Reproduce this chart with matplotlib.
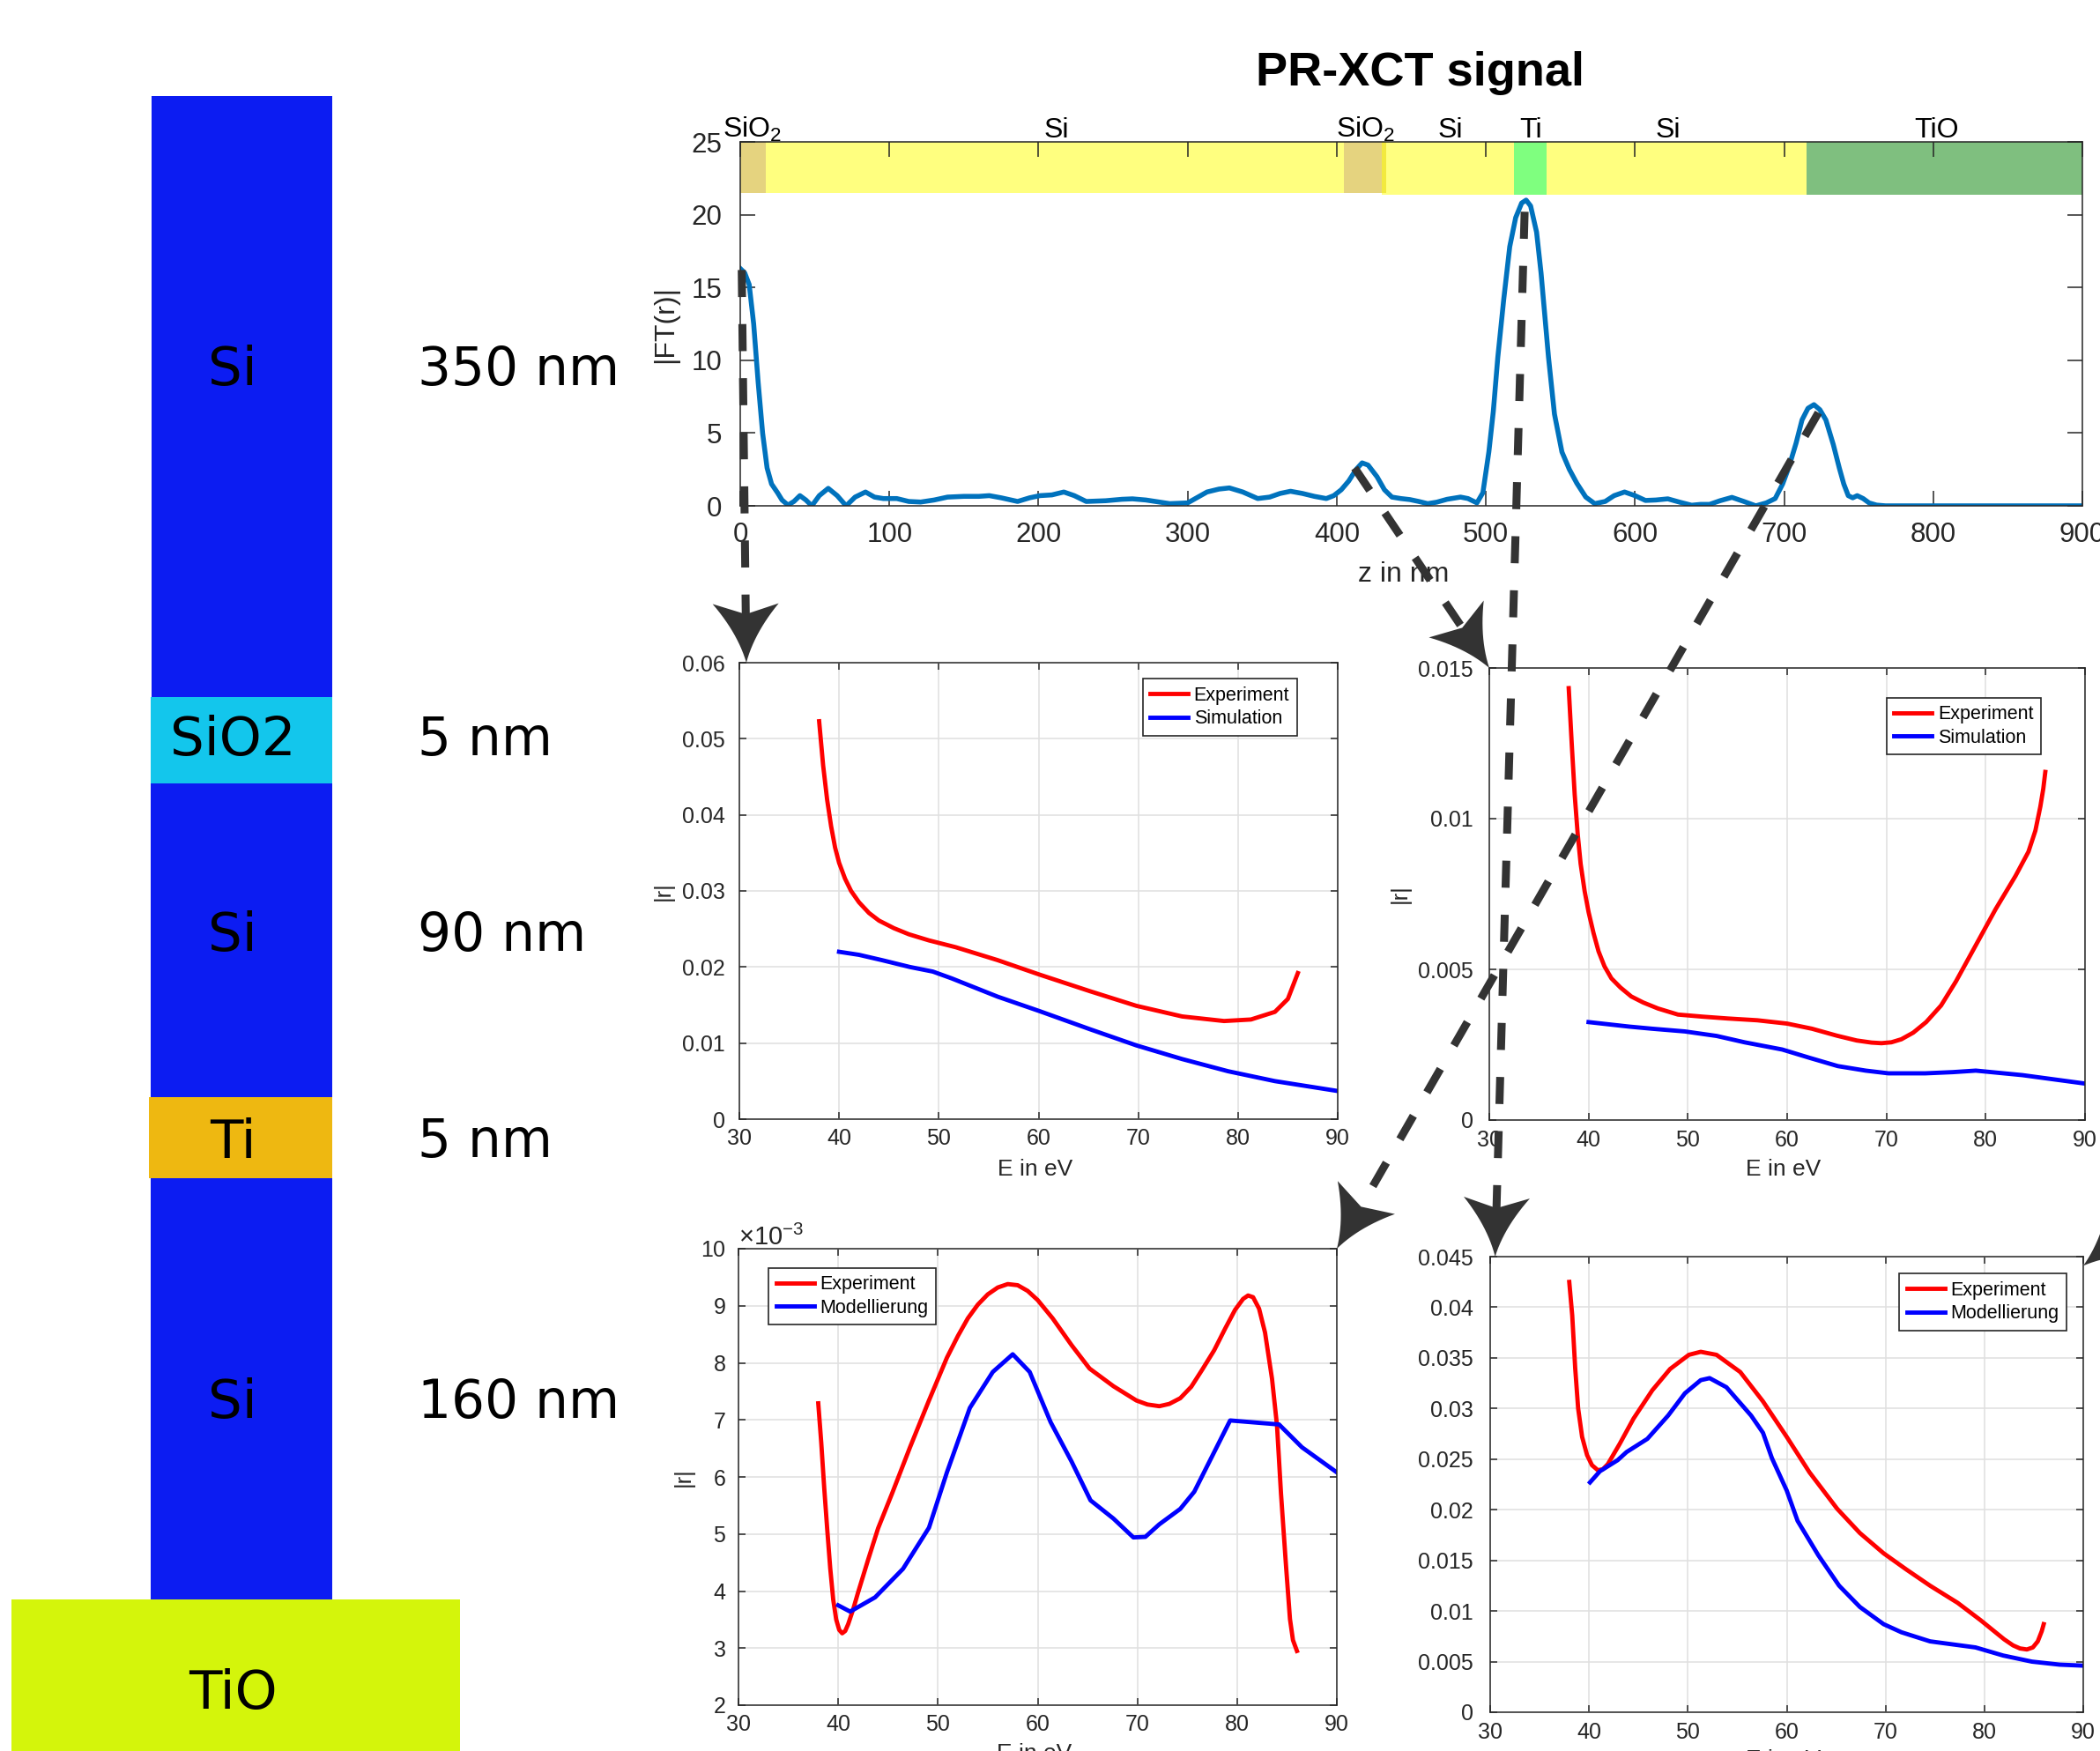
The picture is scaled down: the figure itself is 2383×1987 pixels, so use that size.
import numpy as np
import matplotlib
matplotlib.use("Agg")
import matplotlib.pyplot as plt
from matplotlib.patches import Rectangle, Polygon
from matplotlib.lines import Line2D
from matplotlib.ticker import FuncFormatter, ScalarFormatter
from matplotlib.transforms import IdentityTransform

plt.rcParams["font.family"] = ["Liberation Sans", "DejaVu Sans"]
plt.rcParams["mathtext.fontset"] = "custom"
plt.rcParams["mathtext.rm"] = "Liberation Sans"
plt.rcParams["mathtext.it"] = "Liberation Sans:italic"

W, H = 2383, 1987

# ---------------- data ----------------
# layer stack (left)
layer_names = ["Si", "SiO2", "Si", "Ti", "Si", "TiO"]
layer_thick = ["350 nm", "5 nm", "90 nm", "5 nm", "160 nm", ""]
layer_colors = ["#0c1cf2", "#13c6ec", "#0c1cf2", "#eeb811", "#0c1cf2", "#d4f50b"]

# PR-XCT signal
z_nm = [0, 3, 6, 9, 12, 15, 18, 21, 25, 28, 32, 36, 40, 44, 48, 53, 59, 65, 71, 77,
        84, 90, 96, 105, 113, 121, 130, 139, 150, 160, 167, 175, 186, 194, 201, 209,
        217, 224, 232, 245, 256, 263, 272, 288, 300, 307, 313, 321, 328, 337, 347, 355,
        362, 369, 377, 385, 393, 398, 403, 408, 413, 417, 421, 427, 432, 437, 443, 449,
        455, 461, 467, 474, 483, 488, 494, 498, 502, 505, 508, 512, 516, 520, 524, 527,
        530, 534, 537, 540, 542, 546, 551, 556, 561, 567, 573, 580, 586, 593, 600, 607,
        614, 622, 630, 638, 644, 650, 657, 665, 673, 681, 688, 694, 699, 703, 708, 712,
        716, 720, 724, 728, 733, 737, 740, 743, 746, 749, 753, 757, 762, 768, 800, 900]
ft_amp = [16.3, 16.0, 15.2, 12.5, 8.5, 5.0, 2.6, 1.5, 0.9, 0.4, 0.05, 0.3, 0.7, 0.4, 0.0,
          0.7, 1.2, 0.7, 0.0, 0.6, 0.95, 0.6, 0.5, 0.5, 0.3, 0.26, 0.4, 0.6, 0.65, 0.65,
          0.7, 0.55, 0.3, 0.55, 0.7, 0.75, 0.95, 0.7, 0.3, 0.35, 0.45, 0.48, 0.4, 0.15,
          0.2, 0.6, 0.95, 1.15, 1.23, 0.95, 0.5, 0.6, 0.85, 1.0, 0.85, 0.65, 0.5, 0.7,
          1.1, 1.7, 2.5, 2.95, 2.8, 2.0, 1.1, 0.6, 0.5, 0.43, 0.3, 0.15, 0.25, 0.45, 0.6,
          0.5, 0.2, 0.9, 3.7, 6.5, 10.2, 14.2, 17.8, 19.8, 20.8, 21.0, 20.6, 18.8, 16.0,
          12.5, 10.2, 6.3, 3.7, 2.5, 1.55, 0.6, 0.15, 0.3, 0.7, 0.95, 0.7, 0.37, 0.4,
          0.48, 0.25, 0.04, 0.1, 0.1, 0.35, 0.58, 0.3, 0.0, 0.2, 0.5, 1.5, 2.6, 4.3, 5.9,
          6.7, 6.95, 6.6, 5.9, 4.2, 2.6, 1.5, 0.7, 0.55, 0.7, 0.5, 0.2, 0.05, 0.0, 0.0, 0.0]

band_labels = ["SiO$_2$", "Si", "SiO$_2$", "Si", "Ti", "Si", "TiO"]
band_start = [0, 17, 405, 430, 519, 541, 715]
band_end = [17, 405, 433, 519, 541, 715, 900]
band_bottom = [21.5, 21.5, 21.5, 21.35, 21.35, 21.35, 21.35]
band_colors = ["#cca800", "#ffff00", "#cca800", "#ffff00", "#00ff00", "#ffff00", "#008000"]
label_pos = [8, 212, 419, 476, 530, 622, 802]

# reflectivity panels
e1_exp = [38.0, 38.4, 38.8, 39.2, 39.6, 40.0, 40.6, 41.2, 42.0, 43.0, 44.0, 45.5, 47.0,
          49.0, 51.7, 55.9, 60.1, 65.2, 69.8, 74.4, 78.6, 81.3, 83.7, 85.0, 86.0]
r1_exp = [0.0523, 0.0465, 0.0420, 0.0385, 0.0357, 0.0337, 0.0316, 0.0300, 0.0285, 0.0271,
          0.0261, 0.0251, 0.0243, 0.0235, 0.0226, 0.0209, 0.0190, 0.0168, 0.0149, 0.0135,
          0.0129, 0.0131, 0.0141, 0.0158, 0.0192]
e1_sim = [40.0, 42.0, 44.3, 47.1, 49.4, 51.3, 55.9, 60.1, 65.2, 69.8, 74.4, 79.0, 83.7, 90.0]
r1_sim = [0.0220, 0.0216, 0.0209, 0.0200, 0.0194, 0.0185, 0.0161, 0.0142, 0.0118, 0.0097,
          0.0079, 0.0063, 0.0050, 0.0037]

e2_exp = [38.0, 38.3, 38.6, 38.9, 39.2, 39.6, 40.0, 40.5, 41.0, 41.6, 42.3, 43.2, 44.3,
          45.5, 47.0, 49.0, 51.5, 54.0, 57.0, 60.0, 62.5, 65.0, 67.0, 68.5, 69.5, 70.5,
          71.5, 72.7, 74.0, 75.5, 77.0, 79.0, 81.0, 83.0, 84.3, 85.0, 85.5, 85.8, 86.0]
r2_exp = [0.01433, 0.0125, 0.0108, 0.0095, 0.0085, 0.0076, 0.0069, 0.0062, 0.0056, 0.0051,
          0.0047, 0.0044, 0.0041, 0.0039, 0.0037, 0.0035, 0.00343, 0.00337, 0.00331,
          0.00320, 0.00303, 0.0028, 0.00264, 0.00257, 0.00255, 0.00258, 0.00268, 0.0029,
          0.00325, 0.0038, 0.0046, 0.0058, 0.0070, 0.0081, 0.0089, 0.0096, 0.0104, 0.0110,
          0.01155]
e2_sim = [40.0, 44.1, 46.4, 49.7, 52.9, 55.7, 59.5, 62.3, 65.1, 67.9, 70.2, 73.9, 76.7,
          79.0, 83.7, 90.0]
r2_sim = [0.00325, 0.0031, 0.00303, 0.00294, 0.00279, 0.00258, 0.00234, 0.00206, 0.00179,
          0.00164, 0.00155, 0.00155, 0.00159, 0.00164, 0.00149, 0.00121]

e3_exp = [38.0, 38.3, 38.6, 38.9, 39.2, 39.5, 39.8, 40.1, 40.4, 40.7, 41.0, 41.5, 42.0,
          43.0, 44.0, 45.4, 47.2, 49.1, 50.9, 52.0, 53.0, 54.0, 55.0, 56.0, 57.0, 58.0,
          59.0, 60.0, 61.5, 63.4, 65.2, 67.6, 69.9, 71.0, 72.2, 73.2, 74.3, 75.4, 76.5,
          77.7, 78.8, 79.8, 80.6, 81.1, 81.6, 82.2, 82.8, 83.5, 84.0, 84.4, 84.9, 85.3,
          85.6, 86.0]
r3_exp = [7.29, 6.6, 5.8, 5.08, 4.4, 3.85, 3.5, 3.32, 3.26, 3.30, 3.42, 3.68, 3.98, 4.55,
          5.1, 5.71, 6.52, 7.34, 8.09, 8.47, 8.78, 9.02, 9.20, 9.32, 9.38, 9.36, 9.26, 9.10,
          8.78, 8.31, 7.90, 7.59, 7.34, 7.27, 7.24, 7.28, 7.38, 7.58, 7.88, 8.22, 8.60,
          8.93, 9.12, 9.18, 9.15, 8.95, 8.53, 7.72, 6.90, 5.71, 4.45, 3.51, 3.14, 2.95]
e3_mod = [40.0, 41.2, 43.7, 46.5, 49.1, 50.9, 53.2, 55.5, 57.5, 59.2, 61.3, 63.4, 65.3,
          67.6, 69.6, 70.8, 72.2, 74.3, 75.7, 79.3, 84.2, 86.5, 90.0]
r3_mod = [3.75, 3.64, 3.89, 4.39, 5.11, 6.08, 7.21, 7.84, 8.15, 7.84, 6.96, 6.27, 5.59,
          5.27, 4.94, 4.95, 5.17, 5.44, 5.74, 6.99, 6.92, 6.52, 6.08]
r3_exp = [v * 1e-3 for v in r3_exp]
r3_mod = [v * 1e-3 for v in r3_mod]

e4_exp = [38.0, 38.3, 38.6, 38.9, 39.3, 39.8, 40.3, 40.9, 41.4, 41.9, 43.1, 44.5, 46.4,
          48.2, 50.1, 51.3, 52.9, 55.3, 57.6, 60.0, 62.3, 65.1, 67.4, 69.8, 72.1, 74.5,
          77.3, 79.6, 82.0, 82.9, 83.6, 84.3, 84.9, 85.4, 85.8, 86.0]
r4_exp = [0.0425, 0.0392, 0.034, 0.030, 0.0272, 0.0254, 0.0244, 0.0239, 0.0240, 0.0245,
          0.0265, 0.0290, 0.0318, 0.0339, 0.0353, 0.0356, 0.0353, 0.0336, 0.0307, 0.0272,
          0.0237, 0.0201, 0.0177, 0.0157, 0.0141, 0.0125, 0.0108, 0.0091, 0.0072, 0.0066,
          0.0063, 0.0062, 0.0064, 0.0070, 0.0080, 0.0087]
e4_mod = [40.1, 41.1, 42.9, 43.8, 45.9, 48.0, 49.7, 51.3, 52.2, 53.9, 56.4, 57.6, 58.5,
          60.0, 61.1, 63.2, 65.3, 67.4, 69.8, 71.6, 74.5, 76.8, 79.1, 81.9, 84.8, 87.6, 90.0]
r4_mod = [0.0227, 0.0238, 0.0249, 0.0257, 0.0270, 0.0293, 0.0315, 0.0328, 0.0330, 0.0321,
          0.0293, 0.0276, 0.0251, 0.0219, 0.0189, 0.0155, 0.0125, 0.0104, 0.0087, 0.0079,
          0.0070, 0.0067, 0.0064, 0.0056, 0.0050, 0.0047, 0.0046]

# ---------------- figure ----------------
fig = plt.figure(figsize=(W / 100, H / 100), dpi=100)
dark = "#262626"


def rect(l, t, r, b):
    return [l / W, 1 - b / H, (r - l) / W, (b - t) / H]


# layer stack drawn in pixel space
ax0 = fig.add_axes([0, 0, 1, 1])
ax0.set_xlim(0, W)
ax0.set_ylim(H, 0)
ax0.axis("off")
layer_box = [(172, 109, 377, 791), (171, 791, 377, 889), (171, 889, 377, 1245),
             (169, 1245, 377, 1337), (171, 1337, 377, 1815), (13, 1815, 522, 1995)]
layer_mid = [421, 840, 1063, 1297, 1592, 1923]
for name, thick, col, (l, t, r, b), ym in zip(layer_names, layer_thick, layer_colors,
                                             layer_box, layer_mid):
    ax0.add_patch(Rectangle((l, t), r - l, b - t, color=col, lw=0))
    ax0.text(264, ym, name, ha="center", va="center", fontsize=44,
             family="DejaVu Sans")
    if thick:
        ax0.text(474, ym, thick, ha="left", va="center", fontsize=43,
                 family="DejaVu Sans")


def style(ax, xpad, ypad, length=6, size=18):
    for s in ax.spines.values():
        s.set_color(dark)
        s.set_linewidth(1.1)
    ax.tick_params(direction="in", length=length, width=1.1, color=dark,
                   top=True, right=True, labelsize=size, labelcolor=dark)
    ax.tick_params(axis="x", pad=xpad)
    ax.tick_params(axis="y", pad=ypad)


# top: PR-XCT signal
axt = fig.add_axes(rect(840, 161, 2363, 574))
for s, e, b, c in zip(band_start, band_end, band_bottom, band_colors):
    axt.add_patch(Rectangle((s, b), e - s, 25 - b, color=c, alpha=0.5, lw=0))
for lab, xm in zip(band_labels, label_pos):
    axt.text(xm, 25.3, lab, ha="center", va="baseline", fontsize=23, clip_on=False)
axt.plot(z_nm, ft_amp, color="#0072bd", lw=4.0)
axt.set_xlim(0, 900)
axt.set_ylim(0, 25)
axt.set_xticks(np.arange(0, 901, 100))
axt.set_yticks(np.arange(0, 26, 5))
style(axt, 13, 15, length=12, size=22.5)
axt.set_xlabel("z in nm", fontsize=23, color=dark)
axt.xaxis.set_label_coords(0.494, -0.152)
axt.set_ylabel("|FT(r)|", fontsize=23, color=dark)
axt.yaxis.set_label_coords(-0.046, 0.5)
fig.text(1611 / W, 1 - 97 / H, "PR-XCT signal", ha="center", va="baseline",
         fontsize=39, fontweight="bold")

gfmt = FuncFormatter(lambda v, p: f"{v:g}")


def panel(box, ex, rx, em, rm, names, ylim, yticks, pads, leg, xl, yl):
    ax = fig.add_axes(rect(*box))
    ax.plot(ex, rx, color="#ff0000", lw=3.5, label=names[0])
    ax.plot(em, rm, color="#0000ff", lw=3.5, label=names[1])
    ax.set_xlim(30, 90)
    ax.set_ylim(*ylim)
    ax.set_xticks(np.arange(30, 91, 10))
    ax.set_yticks(yticks)
    ax.yaxis.set_major_formatter(gfmt)
    ax.grid(True, color="#e1e1e1", lw=1.2)
    ax.set_axisbelow(True)
    style(ax, *pads)
    lg = ax.legend(loc=leg[0], bbox_to_anchor=leg[1], fontsize=15.5,
                   frameon=True, fancybox=False, framealpha=1, edgecolor=dark,
                   borderpad=0.4, labelspacing=0.25, handlelength=2.0,
                   handletextpad=0.3, borderaxespad=0)
    lg.get_frame().set_linewidth(1.2)
    ax.set_xlabel("E in eV", fontsize=19, color=dark)
    ax.xaxis.set_label_coords(0.494, xl)
    if yl is not None:
        ax.set_ylabel("|r|", fontsize=18.5, color=dark)
        ax.yaxis.set_label_coords(yl, 0.5)
    return ax


ax1 = panel((839, 752, 1518, 1270), e1_exp, r1_exp, e1_sim, r1_sim,
            ["Experiment", "Simulation"], (0, 0.06), np.arange(0, 0.061, 0.01),
            (7, 11.5), ("upper right", (0.932, 0.965)), -0.086, -0.109)
ax2 = panel((1690, 758, 2366, 1271), e2_exp, r2_exp, e2_sim, r2_sim,
            ["Experiment", "Simulation"], (0, 0.015), np.arange(0, 0.0151, 0.005),
            (8, 13), ("upper right", (0.926, 0.934)), -0.085, -0.132)
ax3 = panel((838, 1417, 1517, 1935), e3_exp, r3_exp, e3_mod, r3_mod,
            ["Experiment", "Modellierung"], (0.002, 0.010), np.arange(0.002, 0.0101, 0.001),
            (7, 10), ("upper left", (0.050, 0.958)), -0.083, -0.074)
sf = ScalarFormatter(useMathText=True)
sf.set_powerlimits((-3, -3))
ax3.yaxis.set_major_formatter(sf)
ax3.yaxis.offsetText.set_fontsize(21)
ax3.yaxis.offsetText.set_color(dark)
ax4 = panel((1691, 1426, 2364, 1943), e4_exp, r4_exp, e4_mod, r4_mod,
            ["Experiment", "Modellierung"], (0, 0.045), np.arange(0, 0.0451, 0.005),
            (8, 14), ("upper right", (0.972, 0.963)), -0.082, None)

# ---------------- dashed connector arrows ----------------
arrow_col = "#333333"


def dashed_arrow(p0, p1, head_len=67, head_w=75, notch=12):
    p0, p1 = np.asarray(p0, float), np.asarray(p1, float)
    u = (p1 - p0) / np.hypot(*(p1 - p0))
    v = np.array([-u[1], u[0]])
    base = p1 - u * head_len
    nt = p1 - u * (head_len - notch)
    fig.add_artist(Line2D([p0[0], nt[0]], [p0[1], nt[1]], transform=IdentityTransform(),
                          color=arrow_col, lw=6.5, ls=(0, (3.4, 3.4)), zorder=20))
    t = np.linspace(0, 1, 14)[:, None]

    def side(c):
        ctrl = (c + p1) / 2 - (c - base) * 0.25
        return (1 - t) ** 2 * c + 2 * (1 - t) * t * ctrl + t ** 2 * p1

    c1 = base + v * head_w / 2
    c2 = base - v * head_w / 2
    pts = np.vstack([side(c1), side(c2)[::-1], [nt]])
    fig.add_artist(Polygon(pts, closed=True, transform=IdentityTransform(),
                           facecolor=arrow_col, edgecolor="none", zorder=21))


def px(ax, x, y):
    return ax.transData.transform((x, y))


dashed_arrow(px(axt, 1, 16.2), px(ax1, 30.7, 0.06))
dashed_arrow(px(axt, 412, 2.6), px(ax2, 30, 0.015))
dashed_arrow(px(axt, 526, 20.2), px(ax4, 30.5, 0.045))
dashed_arrow(px(axt, 723, 6.4), px(ax3, 90, 0.010))
tip = px(ax4, 90.0, 0.0441)
dashed_arrow(tip + np.array([300, 240]), tip)

fig.savefig("out.png", dpi=100)
